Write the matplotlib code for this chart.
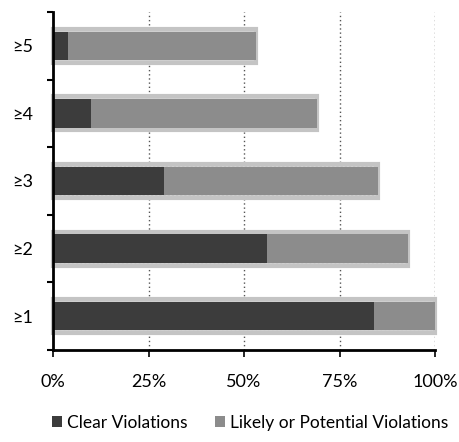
import matplotlib
matplotlib.use("Agg")
import matplotlib.pyplot as plt
from matplotlib.ticker import FixedLocator, PercentFormatter
from matplotlib.patches import Patch

categories = ["≥1", "≥2", "≥3", "≥4", "≥5"]
clear = [84, 56, 29, 10, 4]
likely = [16, 37, 56, 59, 49]
xticks = [0, 25, 50, 75, 100]

plt.rcParams['font.family'] = ['Lato', 'DejaVu Sans']

fig = plt.figure(figsize=(4.59, 4.42), dpi=100)
ax = fig.add_axes([0.1155, 0.208, 0.8325, 0.765])

y = list(range(len(categories)))
totals = [c + l for c, l in zip(clear, likely)]

# halo behind bars
ax.barh(y, totals, height=0.50, color="#d0d0d0", edgecolor="#c4c4c4", linewidth=3,
        hatch="....", zorder=2, clip_on=False)
ax.barh(y, clear, height=0.42, color="#3c3c3c", edgecolor="none", zorder=3)
ax.barh(y, likely, left=clear, height=0.42, color="#8c8c8c", edgecolor="none", zorder=3)

ax.set_xlim(0, 100)
ax.set_ylim(-0.5, len(categories) - 0.5)
ax.set_yticks(y)
ax.set_yticklabels(categories, fontsize=13)
ax.yaxis.set_minor_locator(FixedLocator([i - 0.5 for i in range(len(categories) + 1)]))
ax.tick_params(axis='y', which='major', length=0, pad=14)
ax.tick_params(axis='y', which='minor', length=4, width=1.5, direction='out')
ax.set_xticks(xticks)
ax.xaxis.set_major_formatter(PercentFormatter(decimals=0))
ax.tick_params(axis='x', labelsize=13, length=5, width=1.2, direction='out', pad=12)

for x in xticks[1:]:
    ax.axvline(x, color="#555555", linestyle=(0, (1, 2)), linewidth=1, zorder=1)

for s in ["top", "right"]:
    ax.spines[s].set_visible(False)
ax.spines["left"].set_linewidth(2)
ax.spines["left"].set_zorder(5)
ax.spines["bottom"].set_linewidth(2)

handles = [Patch(facecolor="#3c3c3c", label="Clear Violations"),
           Patch(facecolor="#8c8c8c", label="Likely or Potential Violations")]
fig.legend(handles=handles, loc="lower center", bbox_to_anchor=(0.545, -0.01), ncol=2,
           frameon=False, fontsize=12.5, handlelength=0.55, handleheight=0.55,
           handletextpad=0.3, columnspacing=1.6)

fig.savefig("out.png", dpi=100)
